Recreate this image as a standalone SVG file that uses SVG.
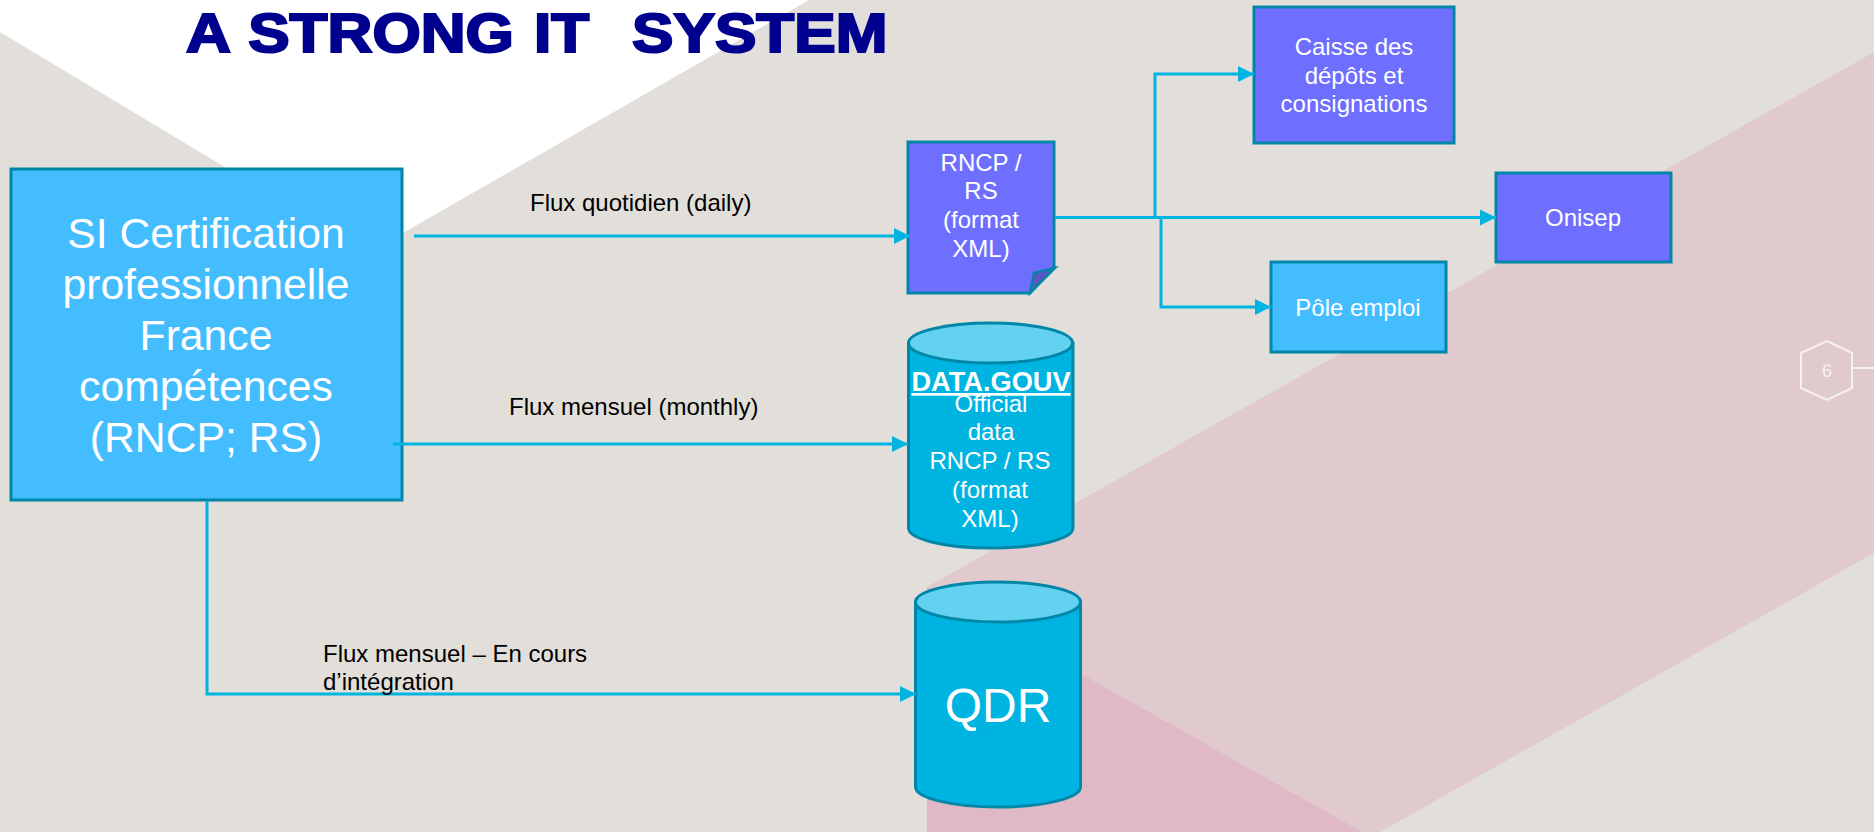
<svg xmlns="http://www.w3.org/2000/svg" width="1874" height="832" viewBox="0 0 1874 832">
<defs>
<style>
text{font-family:"Liberation Sans",Arial,sans-serif;text-anchor:middle;fill:#fff}
.b{stroke:#0087A8;stroke-width:3}
.blue{fill:#44BDFF}
.pur{fill:#6E6EFF}
.cyl{fill:#00B4E2}
.top{fill:#63D2F0}
.c{fill:none;stroke:#00B4E2;stroke-width:3;marker-end:url(#a)}
.t{font-size:24px}
.l{font-size:24px;fill:#000;text-anchor:start}
</style>
<marker id="a" markerUnits="userSpaceOnUse" markerWidth="16" markerHeight="16" refX="16" refY="8" orient="auto"><path d="M0 0L16 8L0 16Z" fill="#00B4E2"/></marker>
</defs>
<rect width="1874" height="832" fill="#E2DFDA"/>
<path d="M0 0H809L368 253L0 32Z" fill="#fff"/>
<path d="M927 587L1874 52V553L1380 832H927Z" fill="#E0CACE"/>
<path d="M927 587L1362 832H927Z" fill="#DFB9C5"/>
<text transform="translate(186 52) scale(1.13 1)" xml:space="preserve" style="font-size:55px;font-weight:bold;fill:#00008F;stroke:#00008F;stroke-width:2.200px;text-anchor:start"><tspan x="0">A </tspan><tspan x="55">STRONG </tspan><tspan x="308">IT  </tspan><tspan x="394.700">SYSTEM</tspan></text>
<g id="si-certification">
<rect class="b blue" x="11" y="169" width="391" height="331"/>
<g style="font-size:42.700px"><text x="206" y="248">SI Certification</text><text x="206" y="299">professionnelle</text><text x="206" y="350">France</text><text x="206" y="401">compétences</text><text x="206" y="452">(RNCP; RS)</text></g>
</g>
<g id="rncp-doc">
<path class="b pur" d="M908 142H1054V267L1030 293H908Z"/>
<path fill="#5E55C4" stroke="#0087A8" stroke-width="2.500" d="M1034 273L1055 268L1030 293Z"/>
<g class="t"><text x="981" y="171">RNCP /</text><text x="981" y="199">RS</text><text x="981" y="228">(format</text><text x="981" y="257">XML)</text></g>
</g>
<g id="caisse">
<rect class="b pur" x="1254" y="7" width="200" height="136"/>
<g class="t"><text x="1354" y="55">Caisse des</text><text x="1354" y="84">dépôts et</text><text x="1354" y="112">consignations</text></g>
</g>
<g id="onisep">
<rect class="b pur" x="1496" y="173" width="175" height="89"/>
<text class="t" x="1583" y="226">Onisep</text>
</g>
<g id="pole-emploi">
<rect class="b blue" x="1271" y="262" width="175" height="90"/>
<text class="t" x="1358" y="316">Pôle emploi</text>
</g>
<g id="data-gouv">
<path class="b cyl" d="M908.500 343V528A82 20 0 0 0 1073 528V343Z"/>
<ellipse class="b top" cx="990.500" cy="343" rx="82" ry="20"/>
<g class="t"><text x="991" y="412">Official</text><text x="991" y="440">data</text><text x="990" y="469">RNCP / RS</text><text x="990" y="498">(format</text><text x="990" y="527">XML)</text></g>
<text x="991" y="391" style="font-size:27.200px;font-weight:bold;text-decoration:underline;text-decoration-thickness:3px;text-underline-offset:4px">DATA.GOUV</text>
</g>
<g id="qdr">
<path class="b cyl" d="M915.500 602V787A82.500 20 0 0 0 1080.500 787V602Z"/>
<ellipse class="b top" cx="998" cy="602" rx="82.500" ry="20"/>
<text x="998" y="722" style="font-size:48px">QDR</text>
</g>
<g id="connectors">
<path class="c" d="M414 236H910"/>
<path class="c" d="M393 444H908"/>
<path class="c" d="M207 501V694H916"/>
<path class="c" d="M1055 217.500H1496"/>
<path class="c" d="M1155 217.500V74H1254"/>
<path class="c" d="M1161 217.500V307H1271"/>
</g>
<text class="l" x="530" y="211">Flux quotidien (daily)</text>
<text class="l" x="509" y="415">Flux mensuel (monthly)</text>
<text class="l" x="323" y="662">Flux mensuel – En cours</text>
<text class="l" x="323" y="690">d’intégration</text>
<g id="page-number">
<path d="M1827 341L1852 353V388L1827 400L1801 388V353Z" fill="none" stroke="#F5F1F1" stroke-width="2"/>
<path d="M1852 368H1874" fill="none" stroke="#F5F1F1" stroke-width="2"/>
<text x="1827" y="377" style="font-size:18px;fill:#F5F1F1">6</text>
</g>
</svg>
